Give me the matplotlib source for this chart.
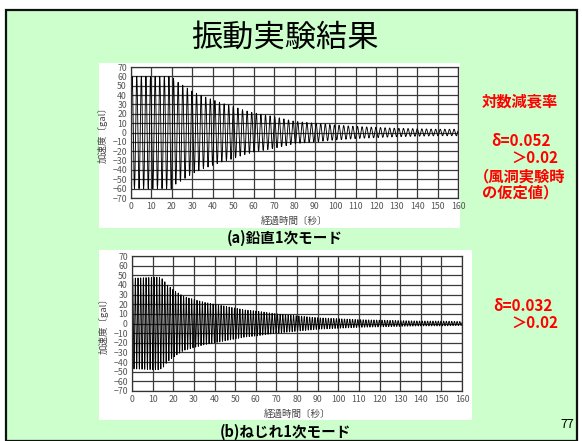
import matplotlib
matplotlib.use("Agg")
import matplotlib.pyplot as plt
import numpy as np
from matplotlib.patches import Rectangle

plt.rcParams["font.family"] = ["Noto Sans CJK JP", "DejaVu Sans"]

W, H = 582, 441

# Vertical 1st mode: envelope of the free-decay record (gal) vs. time (s)
vert_env_time = [0, 20, 22, 25, 30, 35, 40, 45, 50, 55, 60, 70, 80, 90, 100, 110, 120, 130, 140, 150, 160]
vert_env_amp = [60, 60, 55, 51, 44, 39, 35, 31, 28, 24, 21, 17, 12, 10, 8, 6.5, 5.5, 4.5, 4, 3.5, 3.5]
vert_period = 2.25

# Torsional 1st mode
tors_env_time = [0, 13, 15, 17, 20, 25, 30, 35, 40, 45, 50, 55, 60, 70, 80, 90, 100, 110, 120, 130, 140, 150, 160]
tors_env_amp = [47, 48, 46, 40, 35, 28, 25, 22, 20, 18, 16, 14, 13, 10, 8, 6, 5, 4, 3.5, 3, 2.5, 2.5, 2]
tors_period = 1.3

y_ticks = list(range(-70, 71, 10))
x_ticks = list(range(0, 161, 10))

BG = "#ccffcc"
RED = "#ff0000"


def fx(x):
    return x / W


def fy(y):
    return 1 - y / H


def decay_record(env_t, env_a, period):
    t = np.arange(0, 160.01, period / 16)
    amp = np.interp(t, env_t, env_a)
    return t, amp * np.sin(2 * np.pi * t / period)


def draw_panel(fig, box, t, acc):
    left, top, right, bottom = box
    ax = fig.add_axes([fx(left), fy(bottom), fx(right - left), (bottom - top) / H])
    ax.set_zorder(2)
    ax.plot(t, acc, color="black", linewidth=0.65)
    ax.set_xlim(0, 160)
    ax.set_ylim(-70, 70)
    ax.set_xticks(x_ticks)
    ax.set_yticks(y_ticks)
    ax.grid(True, color="#3a3a3a", linewidth=0.9)
    ax.set_axisbelow(True)
    ax.tick_params(length=0, labelsize=6.3, labelcolor="#555555", pad=3)
    for s in ax.spines.values():
        s.set_color("#333333")
        s.set_linewidth(0.9)
    ax.set_xlabel("経過時間〔秒〕", fontsize=6.8, color="#444444", labelpad=4)
    ax.set_ylabel("加速度〔gal〕", fontsize=6.8, color="#444444", labelpad=3)
    return ax


fig = plt.figure(figsize=(W / 100, H / 100), dpi=100)
fig.patch.set_facecolor("white")

# slide background and frame
fig.patches.append(Rectangle((fx(6), fy(441)), fx(571), 431 / H, transform=fig.transFigure,
                             facecolor=BG, edgecolor="#111111", linewidth=1.6, zorder=-2))

# white panels behind the two charts
fig.patches.append(Rectangle((fx(99), fy(228)), fx(361), 165 / H, transform=fig.transFigure,
                             facecolor="white", edgecolor="none", zorder=-1))
fig.patches.append(Rectangle((fx(99), fy(420)), fx(373), 170 / H, transform=fig.transFigure,
                             facecolor="white", edgecolor="none", zorder=-1))

t_v, acc_v = decay_record(vert_env_time, vert_env_amp, vert_period)
t_t, acc_t = decay_record(tors_env_time, tors_env_amp, tors_period)

draw_panel(fig, (131, 67, 458, 198), t_v, acc_v)
draw_panel(fig, (132, 256, 462, 391), t_t, acc_t)

fig.text(fx(285), fy(38), "振動実験結果", fontsize=22.5, ha="center", va="center", color="black")
fig.text(fx(285), fy(238), "(a)鉛直1次モード", fontsize=10.5, fontweight="bold", ha="center", va="center")
fig.text(fx(285), fy(432), "(b)ねじれ1次モード", fontsize=10.5, fontweight="bold", ha="center", va="center")

red = dict(color=RED, fontweight="bold", fontsize=11, ha="center", va="center")
fig.text(fx(520), fy(101), "対数減衰率", **red)
fig.text(fx(521), fy(141), "δ=0.052", **red)
fig.text(fx(535), fy(158), "＞0.02", **red)
fig.text(fx(520), fy(176), "（風洞実験時", **red)
fig.text(fx(520), fy(192), "の仮定値）", **red)
fig.text(fx(523), fy(306), "δ=0.032", **red)
fig.text(fx(535), fy(323), "＞0.02", **red)

fig.text(fx(567), fy(425), "77", fontsize=9, ha="center", va="center", color="black")

fig.savefig("out.png", dpi=100, facecolor=fig.get_facecolor())
